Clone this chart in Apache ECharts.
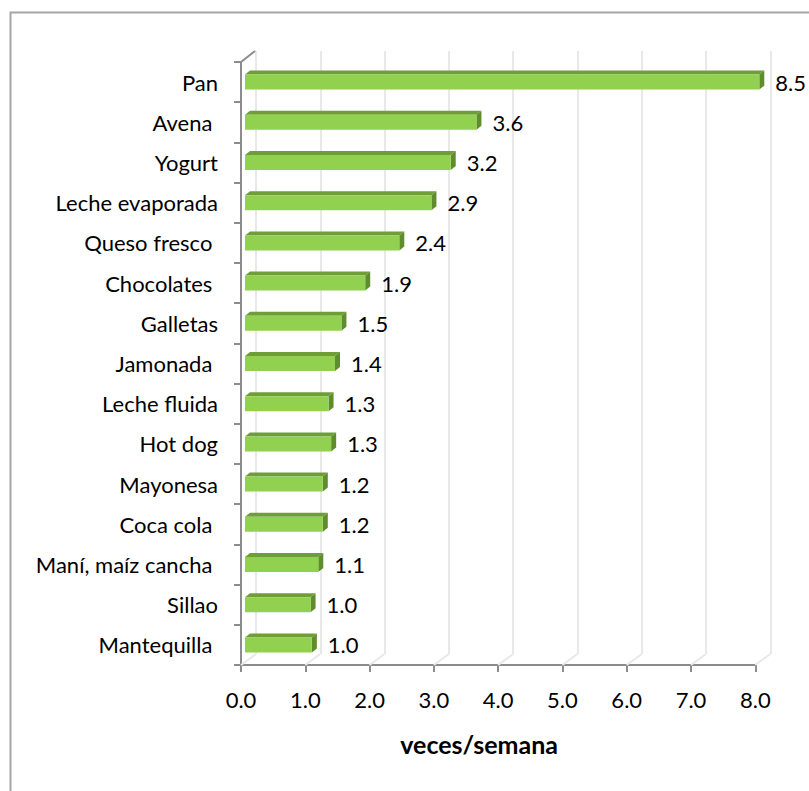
<!DOCTYPE html>
<html>
<head>
<meta charset="utf-8">
<script src="https://cdn.jsdelivr.net/npm/echarts@6/dist/echarts.min.js"></script>
<style>
html,body{margin:0;padding:0;background:#fff;}
#chart{width:809px;height:791px;}
</style>
</head>
<body>
<div id="chart"></div>
<script>
// ---- data ----
const categories = ['Pan', 'Avena ', 'Yogurt', 'Leche evaporada', 'Queso fresco ', 'Chocolates ', 'Galletas', 'Jamonada ', 'Leche fluida', 'Hot dog', 'Mayonesa', 'Coca cola ', 'Maní, maíz cancha ', 'Sillao', 'Mantequilla '];
const values = [8.5, 3.6, 3.2, 2.9, 2.4, 1.87, 1.5, 1.4, 1.3, 1.34, 1.21, 1.21, 1.14, 1.02, 1.04];
const xTicks = [0, 1, 2, 3, 4, 5, 6, 7, 8];
const xMin = 0;
const xMax = 8;
const xInterval = 1;
const axisTitle = 'veces/semana';

// ---- styles ----
const FONT = 'Lato, "Open Sans", sans-serif';
const FRONT = '#92D050';
const TOP = '#6F9E37';
const SIDE = '#5F8C2C';
const AXIS = '#8C8C8C';
const GRIDC = '#E8E8E8';
const BAR_H = 15, DX = 5, DY = 4;

const chart = echarts.init(document.getElementById('chart'), null, {renderer: 'svg'});

const gridW = 514.3, gridH = 603;

const option = {
  backgroundColor: '#fff',
  animation: false,
  graphic: [{
    type: 'rect', left: 8, top: 10, z: -10,
    shape: {width: 830, height: 820},
    style: {fill: 'none', stroke: '#A6A6A6', lineWidth: 2}
  }],
  grid: [
    {left: 245, top: 62, width: gridW, height: gridH},   // bars
    {left: 241, top: 62, width: gridW, height: gridH},   // front axes
    {left: 256, top: 51, width: gridW, height: gridH}    // back wall
  ],
  xAxis: [
    {gridIndex: 0, type: 'value', min: xMin, max: xMax, interval: xInterval, show: false},
    {gridIndex: 1, type: 'value', min: xMin, max: xMax, interval: xInterval,
     axisLine: {show: true, lineStyle: {color: AXIS, width: 2}},
     axisTick: {show: true, length: 7, lineStyle: {color: AXIS, width: 2}},
     axisLabel: {margin: 23, fontSize: 22, color: '#000', fontFamily: FONT,
                 formatter: v => v.toFixed(1)},
     splitLine: {show: false},
     name: axisTitle, nameLocation: 'middle', nameGap: 66,
     nameTextStyle: {fontSize: 25, fontWeight: 'bold', color: '#000', fontFamily: FONT,
                     padding: [0, 38, 0, 0]}},
    {gridIndex: 2, type: 'value', min: xMin, max: xMax, interval: xInterval,
     axisLine: {show: false}, axisTick: {show: false}, axisLabel: {show: false},
     splitLine: {show: true, lineStyle: {color: GRIDC, width: 2}}}
  ],
  yAxis: [
    {gridIndex: 0, type: 'category', data: categories, inverse: true, show: false},
    {gridIndex: 1, type: 'category', data: categories, inverse: true,
     axisLine: {show: true, lineStyle: {color: AXIS, width: 2}},
     axisTick: {show: true, length: 7, lineStyle: {color: AXIS, width: 2}},
     axisLabel: {margin: 23, fontSize: 22, color: '#000', fontFamily: FONT}},
    {gridIndex: 2, type: 'category', data: categories, inverse: true, show: false}
  ],
  series: [
    {
      type: 'custom', xAxisIndex: 1, yAxisIndex: 1, z: 1, silent: true, clip: false,
      data: xTicks.map(t => [t, 0]),
      encode: {x: 0, y: 1},
      renderItem: function (params, api) {
        const cs = params.coordSys;
        const x = api.coord([api.value(0), 0])[0];
        const bottom = cs.y + cs.height;
        const children = [{
          type: 'line',
          shape: {x1: x, y1: bottom, x2: x + 15, y2: bottom - 11},
          style: {stroke: GRIDC, lineWidth: 2}
        }];
        if (api.value(0) === xMin) {
          children.push({
            type: 'line',
            shape: {x1: x, y1: cs.y, x2: x + 14, y2: cs.y - 11},
            style: {stroke: AXIS, lineWidth: 2}
          });
        }
        return {type: 'group', children: children};
      }
    },
    {
      type: 'bar', xAxisIndex: 0, yAxisIndex: 0, z: 3,
      data: values, barWidth: BAR_H,
      itemStyle: {color: FRONT},
      label: {show: true, position: 'right', distance: 16, fontSize: 22,
              color: '#000', fontFamily: FONT,
              formatter: p => p.value.toFixed(1)}
    },
    {
      type: 'custom', xAxisIndex: 0, yAxisIndex: 0, z: 2, clip: false, silent: true,
      data: values.map((v, i) => [v, i]),
      encode: {x: 0, y: 1},
      renderItem: function (params, api) {
        const v = Math.min(api.value(0), xMax);
        const c = api.value(1);
        const p0 = api.coord([xMin, c]);
        const p1 = api.coord([v, c]);
        const top = p1[1] - BAR_H / 2;
        const bottom = top + BAR_H;
        return {
          type: 'group',
          children: [
            {type: 'polygon', shape: {points: [[p0[0], top], [p1[0], top], [p1[0] + DX, top - DY], [p0[0] + DX, top - DY]]},
             style: {fill: TOP}},
            {type: 'polygon', shape: {points: [[p1[0], top], [p1[0] + DX, top - DY], [p1[0] + DX, bottom - DY], [p1[0], bottom]]},
             style: {fill: SIDE}}
          ]
        };
      }
    }
  ]
};
chart.setOption(option);
</script>
</body>
</html>
